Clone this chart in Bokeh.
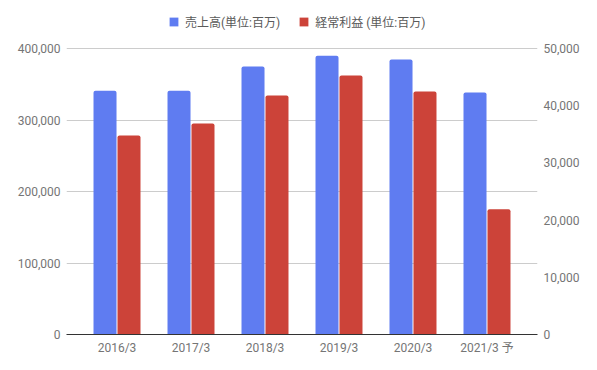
from bokeh.plotting import figure
from bokeh.models import (Range1d, LinearAxis, FixedTicker, NumeralTickFormatter,
                          Legend, LegendItem, FactorRange, ColumnDataSource)
from bokeh.transform import dodge
from bokeh.embed import file_html
from bokeh.resources import INLINE

categories = ["2016/3", "2017/3", "2018/3", "2019/3", "2020/3", "2021/3 予"]
sales = [341000, 341000, 375000, 390000, 384600, 338500]      # 売上高 (百万)
profit = [34800, 36900, 41800, 45300, 42500, 21900]            # 経常利益 (百万)
left_ticks = [0, 100000, 200000, 300000, 400000]
right_ticks = [0, 10000, 20000, 30000, 40000, 50000]
sales_label = "売上高(単位:百万)"
profit_label = "経常利益 (単位:百万)"

BLUE = "#5F7CF1"
RED = "#CC4339"
GRAY = "#757575"
FONT = "Roboto, 'Noto Sans CJK JP', sans-serif"

# frame extends above the top gridline to host the legend: 286 px of data, 40 px headroom
headroom = 326 / 286
left_max = max(left_ticks)
right_max = max(right_ticks)

src = ColumnDataSource(dict(cat=categories, sales=sales, profit=profit))

p = figure(x_range=FactorRange(*categories, range_padding=0.1825, range_padding_units="absolute"),
           y_range=Range1d(0, left_max * headroom),
           width=593, height=362,
           min_border_left=66, min_border_right=56, min_border_top=8, min_border_bottom=28,
           output_backend="svg", toolbar_location=None)
p.extra_y_ranges = {"profit": Range1d(0, right_max * headroom)}

r1 = p.vbar(x=dodge("cat", -0.162, range=p.x_range), top="sales", width=0.311, source=src,
            fill_color=BLUE, line_color=None, border_radius=(2, 2, 0, 0))
r2 = p.vbar(x=dodge("cat", 0.162, range=p.x_range), top="profit", width=0.311, source=src,
            y_range_name="profit", fill_color=RED, line_color=None, border_radius=(2, 2, 0, 0))

p.outline_line_color = None
p.xgrid.grid_line_color = None
p.ygrid.ticker = FixedTicker(ticks=left_ticks)
p.ygrid.grid_line_color = "#CCCCCC"

# left axis
ya = p.yaxis[0]
ya.ticker = FixedTicker(ticks=left_ticks)
ya.formatter = NumeralTickFormatter(format="0,0")
ya.axis_line_color = None
ya.major_tick_line_color = None
ya.minor_tick_line_color = None
ya.major_label_standoff = 0
ya.major_label_text_color = GRAY
ya.major_label_text_font = FONT
ya.major_label_text_font_size = "12px"

# right axis
ra = LinearAxis(y_range_name="profit", ticker=FixedTicker(ticks=right_ticks),
                formatter=NumeralTickFormatter(format="0,0"))
ra.axis_line_color = None
ra.major_tick_line_color = None
ra.minor_tick_line_color = None
ra.major_label_standoff = 0
ra.major_label_text_color = GRAY
ra.major_label_text_font = FONT
ra.major_label_text_font_size = "12px"
p.add_layout(ra, "right")

# x axis
xa = p.xaxis[0]
xa.axis_line_color = "#333333"
xa.axis_line_width = 1
xa.major_tick_line_color = None
xa.minor_tick_line_color = None
xa.major_label_standoff = 0
xa.major_label_text_color = GRAY
xa.major_label_text_font = FONT
xa.major_label_text_font_size = "12px"

legend = Legend(items=[LegendItem(label=sales_label, renderers=[r1]),
                       LegendItem(label=profit_label, renderers=[r2])],
                orientation="horizontal", location=(102, 304),
                label_text_font=FONT, label_text_font_size="12px", label_text_color="#5A5A5A",
                label_height=14, glyph_width=11, glyph_height=11, spacing=18, label_standoff=6,
                padding=0, margin=0, border_line_color=None, background_fill_alpha=0)
p.add_layout(legend, "center")

open("out.html", "w").write(file_html(p, INLINE))
